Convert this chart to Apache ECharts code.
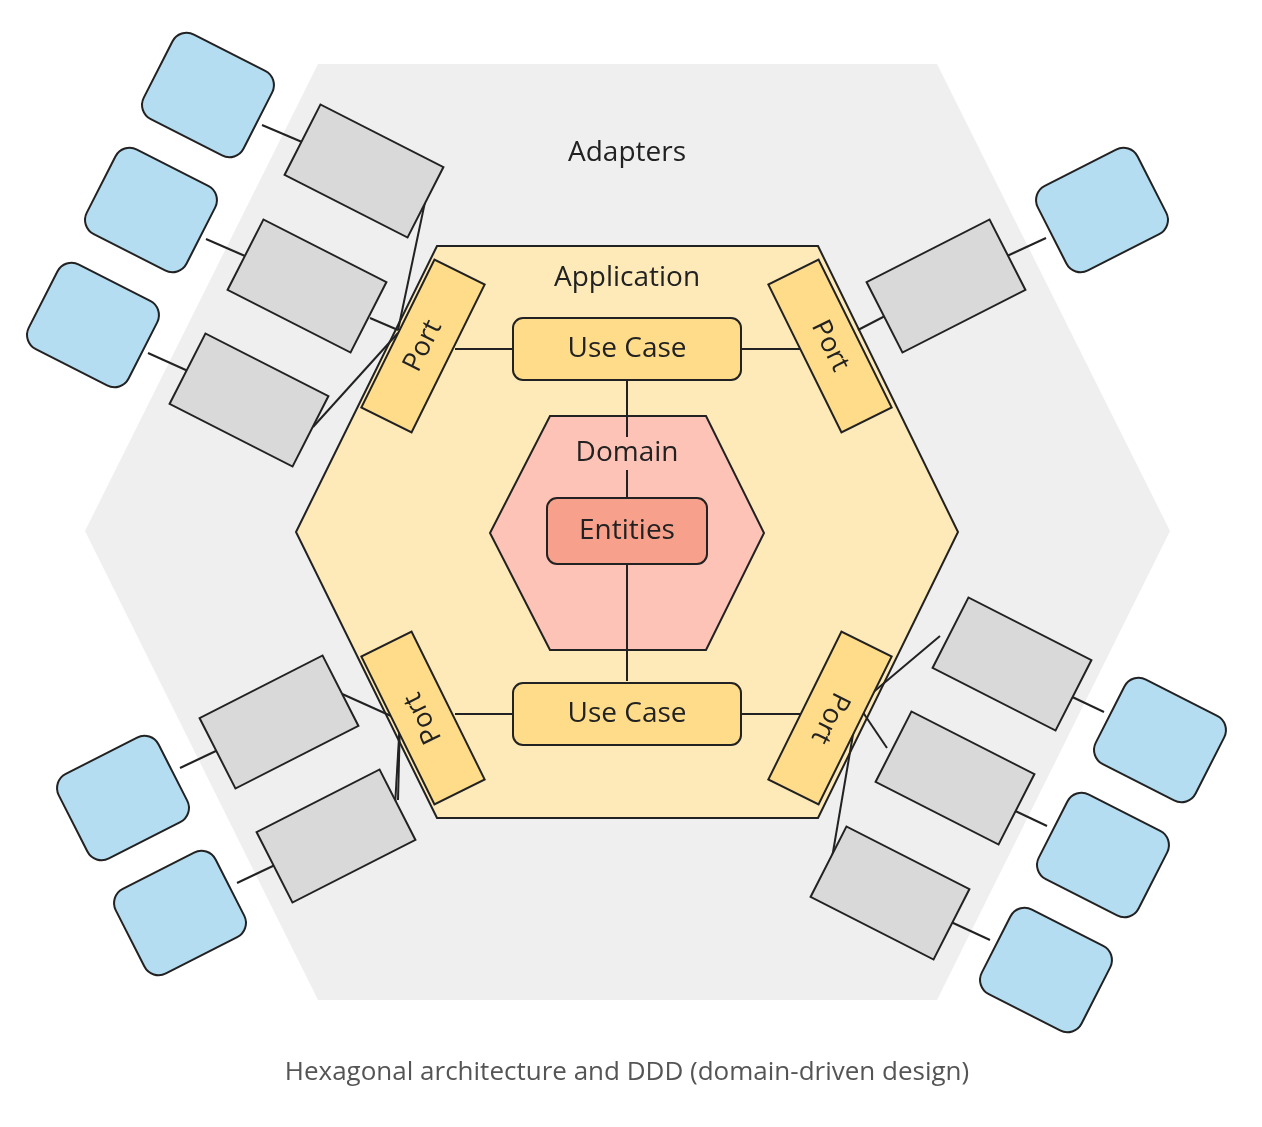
<!DOCTYPE html>
<html>
<head>
<meta charset="utf-8">
<script src="https://cdn.jsdelivr.net/npm/echarts@6/dist/echarts.min.js"></script>
<style>
  html, body { margin: 0; padding: 0; background: #fff; }
  #main { width: 1262px; height: 1127px; }
</style>
</head>
<body>
<div id="main"></div>
<script>
// hexagon layers: name, fill, vertices
var hexNames = ['Adapters', 'Application', 'Domain'];
var hexFills = ['#efefef', '#feeab8', '#fdc3b6'];
var hexStrokes = [null, '#222', '#222'];
var hexPoints = [
  [[318, 64], [937, 64], [1170, 531], [937, 1000], [318, 1000], [85, 531]],
  [[437, 246], [818, 246], [958, 532], [818, 818], [437, 818], [296, 532]],
  [[550, 416], [706, 416], [764, 533], [706, 650], [550, 650], [490, 533]]
];
var hexLabels = [[627, 153], [627, 278], [627, 453]];

// connector lines [x1, y1, x2, y2]
var links = [
  [627, 381, 627, 440], [627, 470, 627, 497], [627, 565, 627, 681],
  [455, 349, 513, 349], [741, 349, 800, 349],
  [455, 714, 513, 714], [741, 714, 800, 714],
  // top-left adapters
  [425, 202, 398, 330], [370, 318, 398, 330], [313, 427, 398, 333],
  [262, 125, 302, 142], [206, 239, 245, 256], [148, 353, 188, 371],
  // top-right adapter
  [858, 330, 885, 316], [1007, 256, 1046, 238],
  // bottom-left adapters
  [340, 693, 400, 720], [398, 800, 400, 720], [395, 806, 400, 720],
  [180, 768, 218, 750], [237, 883, 275, 865],
  // bottom-right adapters
  [858, 705, 940, 636], [858, 705, 887, 748], [858, 705, 832, 858],
  [1066, 694, 1104, 712], [1009, 808, 1047, 826], [951, 922, 990, 940]
];

// rounded boxes: label, cx, cy, w, h
var boxLabels = ['Use Case', 'Use Case', 'Entities'];
var boxCenters = [[627, 349], [627, 714], [627, 531]];
var boxSizes = [[228, 62], [228, 62], [160, 66]];
var boxFills = ['#fedc8a', '#fedc8a', '#f7a08b'];

// ports: cx, cy, rect angle, text angle (degrees)
var ports = [
  [423, 346, 63.7, 63.7],
  [830, 346, -63.7, -63.7],
  [423, 718, -63.7, 116.3],
  [830, 718, 63.7, -116.3]
];

// adapters (gray) and external systems (blue): cx, cy, angle
var grayBoxes = [
  [364, 171, -27], [307, 286, -27], [249, 400, -27],
  [946, 286, 27],
  [279, 722, 27], [336, 836, 27],
  [1012, 664, -27], [955, 778, -27], [890, 893, -27]
];
var blueBoxes = [
  [208, 95, -27], [151, 210, -27], [93, 325, -27],
  [1102, 210, 27],
  [123, 798, 27], [180, 913, 27],
  [1160, 740, -27], [1103, 855, -27], [1046, 970, -27]
];

var caption = 'Hexagonal architecture and DDD (domain-driven design)';
var FONT = '"Open Sans", "Noto Sans", sans-serif';
var rad = function(d) { return d * Math.PI / 180; };

function rotRect(api, p, w, h, r, fill, stroke) {
  var c = api.coord([p[0], p[1]]);
  var s = api.size([w, h]);
  return {
    type: 'rect', x: c[0], y: c[1], rotation: rad(p[2]),
    shape: { x: -s[0] / 2, y: -s[1] / 2, width: s[0], height: s[1], r: r },
    style: { fill: fill, stroke: stroke, lineWidth: 2 }
  };
}

function label(api, x, y, text, size, color, rot) {
  var c = api.coord([x, y]);
  return {
    type: 'text', x: c[0], y: c[1], rotation: rad(rot || 0),
    style: { text: text, fontSize: size, fontFamily: FONT, fill: color || '#222',
      align: 'center', verticalAlign: 'middle' }
  };
}

function renderItem(params, api) {
  var kids = [];
  hexPoints.forEach(function(pts, i) {
    kids.push({
      type: 'polygon',
      shape: { points: pts.map(function(p) { return api.coord(p); }) },
      style: { fill: hexFills[i], stroke: hexStrokes[i] || 'none', lineWidth: 2 }
    });
  });
  links.forEach(function(l) {
    var a = api.coord([l[0], l[1]]), b = api.coord([l[2], l[3]]);
    kids.push({ type: 'line', shape: { x1: a[0], y1: a[1], x2: b[0], y2: b[1] },
      style: { stroke: '#222', lineWidth: 2 } });
  });
  grayBoxes.forEach(function(g) { kids.push(rotRect(api, g, 138, 79, 0, '#d9d9d9', '#222')); });
  blueBoxes.forEach(function(b) { kids.push(rotRect(api, b, 112, 95, 16, '#b5ddf2', '#222')); });
  ports.forEach(function(p) {
    kids.push(rotRect(api, [p[0], p[1], p[2]], 165, 56, 0, '#fedc8a', '#222'));
    kids.push(label(api, p[0], p[1], 'Port', 27, '#222', p[3]));
  });
  boxCenters.forEach(function(c, i) {
    kids.push(rotRect(api, [c[0], c[1], 0], boxSizes[i][0], boxSizes[i][1], 10, boxFills[i], '#222'));
    kids.push(label(api, c[0], c[1], boxLabels[i], 28));
  });
  hexLabels.forEach(function(p, i) {
    if (i === 2) {
      var c = api.coord([p[0], p[1]]);
      kids.push({ type: 'rect', shape: { x: c[0] - 55, y: c[1] - 16, width: 110, height: 32 },
        style: { fill: hexFills[2] } });
    }
    kids.push(label(api, p[0], p[1], hexNames[i], 28));
  });
  kids.push(label(api, 627, 1073, caption, 26, '#555'));
  return { type: 'group', children: kids };
}

var chart = echarts.init(document.getElementById('main'));
chart.setOption({
  animation: false,
  grid: { left: 0, right: 0, top: 0, bottom: 0 },
  xAxis: { type: 'value', min: 0, max: 1262, show: false },
  yAxis: { type: 'value', min: 0, max: 1127, inverse: true, show: false },
  series: [{
    type: 'custom',
    renderItem: renderItem,
    data: [[0, 0]],
    clip: false
  }]
});
</script>
</body>
</html>
